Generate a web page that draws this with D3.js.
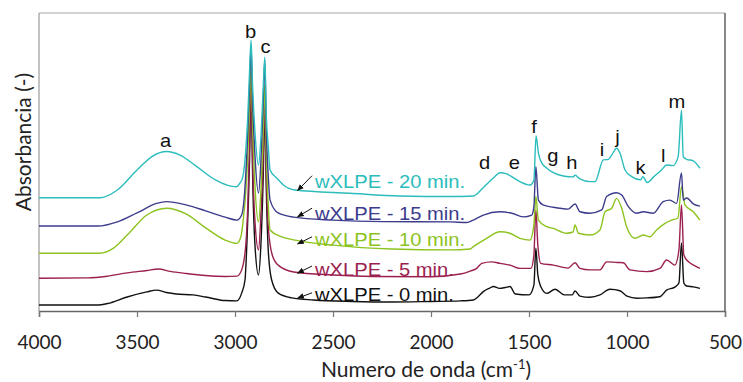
<!DOCTYPE html>
<html><head><meta charset="utf-8">
<script src="https://cdn.jsdelivr.net/npm/d3@7"></script>
<style>body{margin:0;background:#fff}svg{display:block}</style>
</head><body>
<svg id="chart" width="743" height="382"></svg>
<script>
// ---------- DATA ----------
const xTicks = [4000, 3500, 3000, 2500, 2000, 1500, 1000, 500];
const seriesNames = ["wXLPE - 0 min.", "wXLPE - 5 min.", "wXLPE - 10 min.", "wXLPE - 15 min.", "wXLPE - 20 min."];
const seriesColors = ["#111111", "#9b1f4f", "#8cc31e", "#3c3c8c", "#2bbcbc"];

// [wavenumber cm-1, absorbance (arbitrary, offset)]
const wxlpe0 = [[4000,2.0],[3700,2.0],[3650,2.5],[3550,4.7],[3450,6.4],[3400,7.0],[3350,6.2],[3300,5.7],[3214,5.4],[3150,4.7],[3050,3.5],[2990,3.4],[2966,6.0],[2949,10.4],[2938,25.0],[2926,50.0],[2918,75.8],[2910,45.0],[2898,22.0],[2880,12.1],[2868,22.0],[2856,45.0],[2848,67.4],[2840,40.0],[2830,20.0],[2813,10.4],[2779,6.0],[2711,4.4],[2600,3.7],[2400,3.2],[2200,3.0],[2000,3.2],[1850,3.4],[1784,3.7],[1760,4.8],[1733,6.5],[1700,7.7],[1682,8.2],[1650,7.6],[1620,7.9],[1597,8.2],[1570,5.7],[1500,5.4],[1475,8.7],[1465,21.1],[1455,12.1],[1440,8.2],[1410,5.9],[1367,7.3],[1320,5.4],[1280,5.4],[1265,6.7],[1240,5.0],[1189,4.6],[1138,5.4],[1087,7.3],[1036,6.8],[1000,5.0],[950,4.3],[900,4.4],[832,4.8],[798,7.0],[756,8.0],[735,9.4],[722,22.8],[710,9.4],[696,8.4],[662,8.1],[628,7.6]];
const wxlpe5 = [[4000,11.0],[3750,11.1],[3650,11.7],[3550,12.8],[3450,13.6],[3391,14.1],[3330,13.3],[3250,12.6],[3150,11.9],[3050,11.6],[2990,11.7],[2966,13.8],[2945,22.1],[2935,35.0],[2926,55.0],[2918,79.2],[2910,50.0],[2898,30.0],[2880,20.5],[2868,32.0],[2856,52.0],[2848,70.8],[2840,45.0],[2830,28.0],[2810,18.8],[2780,15.4],[2700,13.1],[2500,12.1],[2300,11.6],[2000,11.5],[1850,12.4],[1800,13.4],[1767,14.3],[1741,16.0],[1690,16.5],[1648,16.0],[1597,15.4],[1546,14.3],[1490,14.3],[1475,18.8],[1465,33.9],[1455,22.1],[1440,16.0],[1376,15.4],[1300,14.4],[1265,16.2],[1240,14.3],[1189,13.8],[1138,13.8],[1104,16.5],[1050,16.3],[1019,16.2],[985,13.8],[900,13.2],[832,14.3],[798,17.1],[756,15.4],[735,20.5],[722,35.6],[710,18.8],[686,16.5],[660,15.4],[628,14.3]];
const wxlpe10 = [[4000,19.4],[3690,19.4],[3620,21.1],[3550,25.5],[3450,32.2],[3349,34.5],[3250,32.6],[3150,27.9],[3050,23.8],[2990,22.7],[2970,24.9],[2958,30.5],[2945,40.0],[2935,52.0],[2926,68.0],[2918,83.6],[2910,62.0],[2898,42.0],[2880,29.9],[2868,40.0],[2856,60.0],[2848,75.8],[2840,52.0],[2830,35.0],[2821,27.2],[2762,24.9],[2694,23.8],[2500,22.1],[2200,20.8],[1900,20.5],[1800,20.8],[1784,21.6],[1716,24.4],[1648,26.6],[1597,26.1],[1546,24.4],[1495,23.8],[1475,28.9],[1465,38.4],[1452,30.5],[1410,28.3],[1376,27.7],[1308,26.1],[1275,26.5],[1265,28.9],[1248,26.1],[1189,25.5],[1138,27.2],[1112,33.3],[1078,34.5],[1053,37.8],[1027,34.5],[1002,28.3],[959,24.4],[917,25.5],[883,24.9],[849,27.2],[806,29.4],[772,30.5],[740,31.2],[722,41.7],[704,35.6],[662,33.3],[628,30.5]];
const wxlpe15 = [[4000,28.5],[3700,28.5],[3600,29.9],[3500,32.9],[3400,36.1],[3349,36.7],[3250,35.6],[3150,33.6],[3050,31.5],[2990,30.5],[2966,32.2],[2950,40.6],[2938,55.0],[2926,75.0],[2918,88.6],[2910,70.0],[2898,52.0],[2880,39.6],[2868,50.0],[2856,70.0],[2848,84.2],[2840,60.0],[2830,45.0],[2821,37.2],[2780,32.9],[2700,31.5],[2500,30.5],[2245,30.0],[1900,29.9],[1818,29.7],[1784,30.5],[1733,32.2],[1648,33.3],[1588,32.8],[1529,31.6],[1486,32.2],[1475,35.0],[1465,48.4],[1452,37.2],[1429,35.6],[1376,34.8],[1300,34.2],[1265,35.9],[1240,33.3],[1189,32.8],[1129,33.9],[1104,38.4],[1053,39.7],[1027,38.9],[993,35.0],[951,32.8],[917,33.3],[866,32.8],[815,36.7],[781,37.2],[747,36.1],[722,46.3],[713,37.2],[696,37.9],[660,35.9],[628,35.2]];
const wxlpe20 = [[4000,38.0],[3690,38.0],[3600,40.6],[3500,47.3],[3420,52.0],[3349,53.5],[3280,52.3],[3200,48.7],[3100,44.0],[3020,41.9],[2991,41.7],[2975,42.9],[2960,45.0],[2945,54.0],[2935,65.0],[2926,80.0],[2918,90.9],[2910,75.0],[2898,60.0],[2880,49.0],[2868,58.0],[2856,75.0],[2848,85.2],[2840,65.0],[2830,55.0],[2821,47.3],[2787,44.6],[2753,42.3],[2694,40.6],[2413,39.5],[2158,38.6],[1903,38.4],[1784,38.6],[1735,41.3],[1682,44.6],[1648,46.4],[1614,46.0],[1588,45.1],[1546,43.4],[1495,42.3],[1475,44.0],[1464,58.7],[1452,53.0],[1435,49.7],[1410,48.0],[1376,46.4],[1325,45.3],[1275,45.0],[1265,45.6],[1240,44.3],[1189,43.4],[1163,43.4],[1121,50.7],[1095,50.9],[1078,52.3],[1053,54.6],[1036,53.0],[1010,47.3],[976,45.1],[930,44.0],[919,45.1],[897,43.1],[863,45.1],[824,47.3],[798,49.0],[765,48.8],[739,51.8],[722,67.4],[713,51.8],[696,50.9],[662,50.4],[628,47.9]];
const seriesData = [wxlpe0, wxlpe5, wxlpe10, wxlpe15, wxlpe20];

// peak letters (wavenumber, absorbance of text baseline)
const peakLetters = ["a","b","c","d","e","f","g","h","i","j","k","l","m"];
const peakWn  = [3354, 2920, 2844, 1726, 1575, 1474, 1378, 1281, 1128, 1049, 931, 815, 745];
const peakAbs = [55.1, 91.5, 86.5, 47.6, 47.6, 59.6, 50.1, 47.6, 52.0, 56.4, 45.9, 50.1, 68.0];

// series label annotations
const labelWn = 2592;
const labelAbs = [3.2, 11.9, 21.8, 30.5, 41.3];
const arrowFromWn = 2607, arrowToWn = 2681;
const arrowFromAbs = [6.1, 15.1, 24.9, 34.5, 45.4];
const arrowToAbs = [4.3, 12.7, 22.5, 31.6, 40.4];

// ---------- CHART ----------
const svg = d3.select("#chart");
const L = 39, R = 725, T = 13, B = 311;
const x = d3.scaleLinear().domain([4000, 500]).range([L, R]);
const y = d3.scaleLinear().domain([0, 100]).range([B, T]);
const SX = 1.12;
const labelFont = "'Liberation Sans', Arial, sans-serif";
const axisFont = "Lato, 'Liberation Sans', sans-serif";

svg.append("defs").append("marker")
  .attr("id", "arr").attr("viewBox", "0 0 10 10").attr("refX", 9).attr("refY", 5)
  .attr("markerWidth", 7).attr("markerHeight", 7).attr("markerUnits", "userSpaceOnUse")
  .attr("orient", "auto")
  .append("path").attr("d", "M0,1 L10,5 L0,9 Z").attr("fill", "#111");

// frame
svg.append("line").attr("x1", L).attr("x2", R).attr("y1", T).attr("y2", T).attr("stroke", "#a8a8a8").attr("stroke-width", 1.2);
svg.append("line").attr("x1", L).attr("x2", L).attr("y1", T).attr("y2", B).attr("stroke", "#9a9a9a").attr("stroke-width", 1.2);
svg.append("line").attr("x1", R).attr("x2", R).attr("y1", T).attr("y2", B).attr("stroke", "#555").attr("stroke-width", 1.4);

// x axis
const xAxis = d3.axisBottom(x).tickValues(xTicks).tickSize(6).tickPadding(19).tickFormat(d3.format("d"));
const gx = svg.append("g").attr("transform", `translate(0,${B})`).call(xAxis);
gx.select(".domain").attr("stroke", "#666").attr("stroke-width", 1.5);
gx.selectAll(".tick line").attr("stroke", "#777").attr("stroke-width", 1.2);
gx.selectAll(".tick text").attr("font-family", axisFont).attr("font-size", 19).attr("fill", "#222");

// spectra
const line = d3.line().x(d => x(d[0])).y(d => y(d[1])).curve(d3.curveMonotoneX);
seriesData.forEach((s, i) => {
  svg.append("path").datum(s).attr("d", line).attr("fill", "none")
    .attr("stroke", seriesColors[i]).attr("stroke-width", 1.4).attr("stroke-linejoin", "round");
});

// series labels + arrows
seriesNames.forEach((n, i) => {
  svg.append("line")
    .attr("x1", x(arrowFromWn)).attr("y1", y(arrowFromAbs[i]))
    .attr("x2", x(arrowToWn)).attr("y2", y(arrowToAbs[i]))
    .attr("stroke", "#111").attr("stroke-width", 1).attr("marker-end", "url(#arr)");
  svg.append("text").attr("transform", `translate(${x(labelWn)},${y(labelAbs[i])}) scale(${SX},1)`)
    .attr("font-family", labelFont).attr("font-size", 18).attr("fill", seriesColors[i]).text(n);
});

// peak letters
peakLetters.forEach((p, i) => {
  svg.append("text").attr("transform", `translate(${x(peakWn[i])},${y(peakAbs[i])}) scale(${SX},1)`)
    .attr("text-anchor", "middle").attr("font-family", labelFont).attr("font-size", 18).attr("fill", "#111").text(p);
});

// axis titles
const xt = svg.append("text").attr("x", 426).attr("y", 377).attr("text-anchor", "middle")
  .attr("font-family", axisFont).attr("font-size", 21).attr("fill", "#222");
xt.append("tspan").text("Numero de onda (cm");
xt.append("tspan").attr("font-size", 13).attr("dy", -8).text("-1");
xt.append("tspan").attr("dy", 8).text(")");

svg.append("text").attr("transform", "translate(31,142) rotate(-90)").attr("text-anchor", "middle")
  .attr("font-family", axisFont).attr("font-size", 21).attr("fill", "#222").text("Absorbancia (-)");
</script>
</body></html>
